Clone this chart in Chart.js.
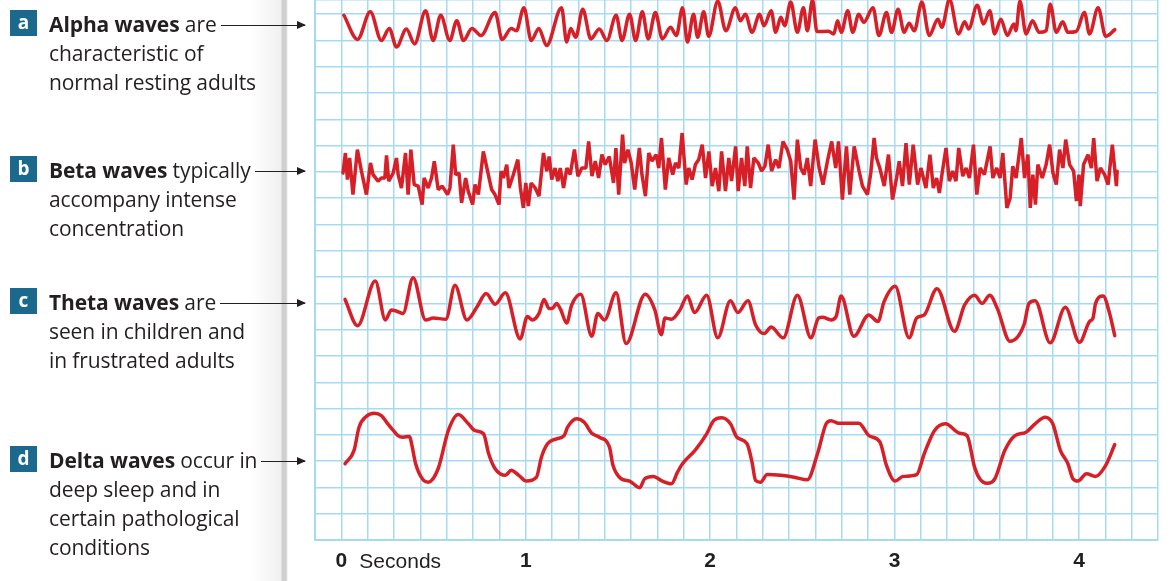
<!DOCTYPE html>
<html>
<head>
<meta charset="utf-8">
<title>EEG wave types</title>
<script src="https://cdn.jsdelivr.net/npm/chart.js@4.4.1/dist/chart.umd.min.js"></script>
<style>
  html, body { margin: 0; padding: 0; background: #fff; }
  body {
    width: 1175px; height: 581px; position: relative; overflow: hidden;
    font-family: "Open Sans", Lato, sans-serif; color: #231f20;
  }
  #panel {
    position: absolute; left: 0; top: 0; width: 288px; height: 581px;
    background: linear-gradient(to right, #fff 0, #fff 250px, #f0f0f0 281px, #cfcfcf 282px, #cfcfcf 286px, #fff 288px);
  }
  #plot { position: absolute; left: 285px; top: 0; width: 890px; height: 581px; }
  .wave {
    position: absolute; left: 49px; width: 256px;
    font-size: 21px; line-height: 29px; z-index: 2; letter-spacing: -0.1px;
  }
  .wave b { font-weight: 700; }
  .tag {
    position: absolute; left: -39px; top: 0; width: 27px; height: 26px;
    background: #1b6a8e; color: #fff; font-weight: 700; font-size: 19px;
    text-align: center; line-height: 25px; letter-spacing: 0;
  }
  .first { display: flex; align-items: center; white-space: nowrap; }
  .arrow { flex: 1; height: 1px; margin-left: 4px; background: #231f20; position: relative; top: 1px; }
  .arrow::after {
    content: ""; position: absolute; right: -1px; top: -4px;
    border-left: 9px solid #231f20; border-top: 4.5px solid transparent; border-bottom: 4.5px solid transparent;
  }
</style>
</head>
<body>
<div id="panel"></div>

<div class="wave" style="top:10px">
  <div class="tag">a</div>
  <div class="first"><span><b>Alpha waves</b> are</span><i class="arrow"></i></div>
  <div>characteristic of</div>
  <div>normal resting adults</div>
</div>
<div class="wave" style="top:156px">
  <div class="tag">b</div>
  <div class="first"><span><b>Beta waves</b> typically</span><i class="arrow"></i></div>
  <div>accompany intense</div>
  <div>concentration</div>
</div>
<div class="wave" style="top:288px">
  <div class="tag">c</div>
  <div class="first"><span><b>Theta waves</b> are</span><i class="arrow"></i></div>
  <div>seen in children and</div>
  <div>in frustrated adults</div>
</div>
<div class="wave" style="top:446px">
  <div class="tag">d</div>
  <div class="first"><span><b>Delta waves</b> occur in</span><i class="arrow"></i></div>
  <div>deep sleep and in</div>
  <div>certain pathological</div>
  <div>conditions</div>
</div>

<div id="plot"><canvas id="eeg" width="890" height="581"></canvas></div>

<script>
// seconds on x, trace deflection in grid squares on y (relative to each trace's arrow)
const secondLabels = ['0', '1', '2', '3', '4'];

const alphaTrace = [
  [0.014,0.46],[0.088,-0.46],[0.157,0.59],[0.217,-0.50],[0.260,-0.04],[0.299,-0.75],[0.353,-0.06],[0.397,-0.63],
  [0.457,0.63],[0.498,-0.50],[0.539,0.46],[0.588,-0.50],[0.626,0.25],[0.662,-0.50],[0.708,-0.04],[0.757,-0.31],
  [0.834,0.56],[0.872,-0.46],[0.921,-0.04],[0.949,-0.13],[0.990,0.75],[1.030,-0.50],[1.071,-0.04],[1.113,-0.69],
  [1.194,0.75],[1.222,-0.56],[1.244,-0.04],[1.271,-0.38],[1.309,0.69],[1.353,-0.44],[1.399,-0.06],[1.440,-0.50],
  [1.490,0.46],[1.522,-0.50],[1.563,0.50],[1.596,-0.50],[1.632,0.59],[1.664,-0.44],[1.703,0.56],[1.741,-0.44],
  [1.785,0.00],[1.817,-0.31],[1.850,0.75],[1.877,-0.56],[1.910,0.50],[1.932,-0.38],[1.965,0.59],[1.992,-0.34],
  [2.041,1.00],[2.085,-0.13],[2.137,0.75],[2.164,0.25],[2.191,0.50],[2.227,-0.19],[2.268,0.50],[2.292,0.06],
  [2.331,0.63],[2.355,-0.19],[2.383,0.38],[2.404,0.06],[2.437,0.96],[2.473,-0.19],[2.506,0.75],[2.527,-0.13],
  [2.555,1.04],[2.579,-0.16],[2.642,-0.15],[2.670,-0.25],[2.691,0.25],[2.711,-0.19],[2.746,0.63],[2.773,-0.19],
  [2.806,0.50],[2.833,0.19],[2.883,0.75],[2.915,-0.31],[2.956,0.56],[2.984,-0.19],[3.019,0.69],[3.052,-0.19],
  [3.079,0.16],[3.107,-0.13],[3.148,0.96],[3.188,-0.31],[3.235,0.31],[3.256,0.00],[3.298,1.06],[3.347,-0.25],
  [3.380,0.21],[3.402,-0.06],[3.448,0.84],[3.483,0.13],[3.516,0.63],[3.543,-0.25],[3.576,0.31],[3.612,-0.31],
  [3.647,0.13],[3.658,-0.13],[3.680,1.00],[3.713,-0.25],[3.748,0.25],[3.784,-0.19],[3.822,-0.13],[3.844,0.88],
  [3.877,-0.19],[3.912,0.21],[3.940,-0.19],[3.985,-0.16],[4.030,0.56],[4.057,-0.25],[4.104,0.75],[4.145,-0.34],
  [4.194,-0.09]
];

const betaTrace = [
  [0.009,-0.04],[0.022,0.72],[0.033,-0.29],[0.045,0.53],[0.063,-0.86],[0.087,0.85],[0.109,0.03],[0.136,-0.86],
  [0.158,0.34],[0.172,-0.10],[0.199,-0.35],[0.217,-0.23],[0.236,-0.23],[0.245,0.63],[0.257,-0.35],[0.281,-0.04],
  [0.299,0.53],[0.308,-0.10],[0.326,-0.61],[0.348,0.72],[0.362,-0.86],[0.377,0.85],[0.395,-0.48],[0.417,-0.54],
  [0.438,-1.24],[0.449,-0.23],[0.471,-0.61],[0.489,-0.23],[0.504,0.41],[0.525,-0.67],[0.547,-0.54],[0.576,-0.86],
  [0.589,-0.61],[0.607,1.04],[0.620,-0.10],[0.638,-0.04],[0.652,-1.18],[0.674,-0.23],[0.688,-0.73],[0.712,-1.24],
  [0.725,-0.48],[0.743,-0.86],[0.770,0.78],[0.793,0.03],[0.815,-0.67],[0.833,-0.86],[0.855,-1.24],[0.866,0.03],
  [0.879,-0.23],[0.897,0.28],[0.909,-0.61],[0.933,-0.10],[0.957,0.47],[0.971,-0.61],[0.987,-1.37],[1.000,-0.42],
  [1.014,-1.30],[1.029,-0.42],[1.051,-0.61],[1.072,-0.92],[1.096,0.72],[1.114,0.03],[1.127,0.59],[1.141,-0.29],
  [1.159,0.15],[1.174,-0.35],[1.187,0.15],[1.205,-0.61],[1.223,0.15],[1.241,-0.10],[1.264,0.85],[1.283,-0.16],
  [1.304,0.15],[1.326,0.15],[1.341,1.16],[1.359,-0.16],[1.377,0.41],[1.395,-0.23],[1.413,0.66],[1.431,0.28],
  [1.453,0.59],[1.476,-0.42],[1.489,0.91],[1.504,-0.86],[1.525,1.42],[1.536,0.34],[1.554,0.85],[1.572,0.34],
  [1.591,-0.67],[1.616,0.91],[1.630,-0.10],[1.649,-0.92],[1.667,0.72],[1.685,0.41],[1.707,0.66],[1.721,0.15],
  [1.736,1.29],[1.757,-0.67],[1.775,0.53],[1.797,-0.10],[1.812,0.34],[1.830,0.15],[1.848,1.48],[1.870,-0.48],
  [1.884,0.15],[1.902,-0.29],[1.920,0.28],[1.938,0.47],[1.957,1.04],[1.975,-0.23],[1.993,0.78],[2.011,-0.54],
  [2.029,0.15],[2.047,-0.73],[2.062,0.78],[2.083,-0.73],[2.101,0.53],[2.116,-0.35],[2.138,0.97],[2.152,-0.73],
  [2.170,0.53],[2.188,-0.54],[2.201,0.97],[2.219,-0.61],[2.237,0.53],[2.261,0.34],[2.279,0.03],[2.297,0.22],
  [2.315,1.04],[2.333,0.03],[2.355,0.47],[2.373,0.15],[2.395,1.16],[2.418,0.85],[2.437,0.41],[2.455,-1.05],
  [2.473,1.23],[2.491,0.15],[2.509,-0.10],[2.527,0.53],[2.545,-0.54],[2.569,1.23],[2.591,0.15],[2.612,-0.48],
  [2.636,0.41],[2.659,1.16],[2.681,0.15],[2.696,1.16],[2.717,-1.05],[2.739,0.97],[2.757,-0.86],[2.781,0.97],
  [2.808,0.03],[2.826,-0.54],[2.853,-0.86],[2.871,-0.04],[2.889,1.29],[2.902,0.53],[2.920,0.15],[2.944,-0.54],
  [2.967,0.66],[2.989,-1.05],[3.011,-0.23],[3.025,0.41],[3.043,-0.54],[3.062,1.10],[3.080,-0.48],[3.101,1.04],
  [3.125,-0.48],[3.143,0.15],[3.170,-0.61],[3.192,0.66],[3.210,-0.61],[3.228,-0.23],[3.243,-0.80],[3.257,-0.10],
  [3.279,0.91],[3.297,-0.35],[3.315,0.03],[3.333,-0.35],[3.348,0.91],[3.370,-0.16],[3.388,0.15],[3.406,-0.23],
  [3.428,1.04],[3.446,-0.86],[3.464,0.15],[3.487,-0.10],[3.518,0.97],[3.533,-0.23],[3.554,0.15],[3.572,-0.23],
  [3.587,0.72],[3.609,-1.37],[3.627,-0.99],[3.641,0.22],[3.659,-0.23],[3.687,1.29],[3.705,-0.23],[3.723,0.66],
  [3.736,-1.37],[3.750,-0.10],[3.764,-1.24],[3.777,0.28],[3.801,-0.23],[3.822,0.28],[3.841,1.04],[3.859,-0.04],
  [3.877,-0.48],[3.895,0.85],[3.913,0.15],[3.928,1.23],[3.949,0.28],[3.971,0.03],[3.986,-1.11],[4.000,-0.10],
  [4.007,-1.30],[4.025,0.28],[4.049,0.66],[4.067,0.15],[4.080,1.29],[4.098,-0.35],[4.116,0.15],[4.139,-0.10],
  [4.158,-0.48],[4.181,1.04],[4.203,-0.54],[4.207,0.03]
];

const thetaTrace = [
  [0.020,0.15],[0.088,-0.85],[0.184,0.85],[0.239,-0.63],[0.271,-0.25],[0.293,-0.28],[0.334,-0.38],[0.389,0.98],
  [0.457,-0.63],[0.498,-0.56],[0.567,-0.60],[0.616,0.69],[0.681,-0.63],[0.736,-0.13],[0.785,0.38],[0.834,-0.03],
  [0.889,0.40],[0.970,-1.35],[1.009,-0.50],[1.036,-0.63],[1.072,-0.38],[1.099,0.15],[1.126,-0.19],[1.145,-0.19],
  [1.167,0.00],[1.189,-0.23],[1.222,-0.75],[1.249,-0.06],[1.298,0.35],[1.358,-1.25],[1.391,-0.38],[1.427,-0.63],
  [1.490,0.40],[1.544,-1.53],[1.648,0.35],[1.700,-0.25],[1.735,-1.19],[1.755,-0.56],[1.790,-0.60],[1.836,-0.25],
  [1.877,0.28],[1.915,-0.35],[1.981,0.31],[2.041,-1.31],[2.110,0.10],[2.150,-0.35],[2.205,0.10],[2.246,-0.81],
  [2.293,-1.15],[2.331,-0.90],[2.396,-1.31],[2.473,0.31],[2.547,-1.31],[2.588,-0.56],[2.610,-0.53],[2.656,-0.63],
  [2.683,-0.50],[2.710,0.28],[2.779,-1.25],[2.847,-0.50],[2.860,-0.44],[2.910,-0.69],[2.943,0.06],[3.003,0.65],
  [3.079,-1.31],[3.120,-0.56],[3.161,-0.44],[3.230,0.56],[3.325,-1.06],[3.380,-0.06],[3.434,0.31],[3.475,0.00],
  [3.516,0.31],[3.557,-0.19],[3.626,-1.44],[3.702,-0.81],[3.729,0.00],[3.762,0.10],[3.844,-1.50],[3.926,-0.15],
  [4.003,-1.48],[4.057,-0.69],[4.076,-0.56],[4.090,0.00],[4.131,0.28],[4.166,-0.38],[4.194,-1.23]
];

const deltaTrace = [
  [0.020,-0.10],[0.069,0.41],[0.096,1.29],[0.135,1.70],[0.178,1.82],[0.217,1.73],[0.252,1.42],[0.279,1.19],
  [0.307,0.97],[0.334,0.91],[0.370,0.94],[0.381,0.66],[0.403,-0.10],[0.443,-0.71],[0.471,-0.80],[0.525,-0.29],
  [0.580,1.16],[0.634,1.77],[0.689,1.42],[0.725,1.16],[0.771,1.04],[0.799,0.28],[0.834,-0.29],[0.889,-0.54],
  [0.921,-0.35],[0.962,-0.54],[1.003,-0.76],[1.058,-0.61],[1.085,0.15],[1.118,0.66],[1.167,0.85],[1.208,0.97],
  [1.227,1.29],[1.276,1.61],[1.317,1.48],[1.358,1.06],[1.399,0.91],[1.454,0.53],[1.473,-0.16],[1.517,-0.67],
  [1.563,-0.76],[1.618,-1.01],[1.645,-0.67],[1.692,-0.58],[1.741,-0.76],[1.790,-0.86],[1.823,-0.42],[1.850,-0.10],
  [1.918,0.41],[1.981,1.04],[2.019,1.54],[2.063,1.65],[2.110,1.42],[2.145,0.91],[2.200,0.66],[2.227,-0.04],
  [2.246,-0.73],[2.273,-0.80],[2.309,-0.51],[2.383,-0.54],[2.456,-0.61],[2.527,-0.71],[2.582,0.28],[2.629,1.42],
  [2.656,1.54],[2.697,1.44],[2.806,1.44],[2.861,0.97],[2.921,0.72],[2.956,-0.16],[3.003,-0.76],[3.046,-0.58],
  [3.120,-0.51],[3.161,0.28],[3.216,1.16],[3.276,1.42],[3.352,1.06],[3.393,0.97],[3.434,-0.23],[3.462,-0.67],
  [3.502,-0.84],[3.544,-0.67],[3.598,0.41],[3.653,0.97],[3.713,1.10],[3.762,1.42],[3.817,1.67],[3.858,1.42],
  [3.899,0.41],[3.940,-0.10],[3.967,-0.67],[3.994,-0.76],[4.041,-0.48],[4.090,-0.58],[4.145,-0.16],[4.194,0.63]
];

// grid squares: 7 per second horizontally, same size vertically
const SQUARES_PER_SECOND = 7;
const GRID_TOP = 540 / 26.29;          // y range shown, in squares
const baseline = { alpha: 19.5, beta: 14, theta: 9, delta: 3 };
const RED = '#d61f27';

function toPoints(trace, offset) {
  return trace.map(([t, v]) => ({ x: t, y: offset + v }));
}

function traceSet(trace, offset, smooth) {
  return {
    data: toPoints(trace, offset),
    borderColor: RED,
    borderWidth: 3.5,
    pointRadius: 0,
    fill: false,
    tension: smooth ? 0.4 : 0,
    cubicInterpolationMode: smooth ? 'monotone' : 'default',
    borderCapStyle: 'round',
    borderJoinStyle: smooth ? 'round' : 'bevel'
  };
}

const secondsLabel = {
  id: 'secondsLabel',
  afterDraw(chart) {
    const { ctx, scales: { x } } = chart;
    ctx.save();
    ctx.font = '21px "Liberation Sans", Arial, sans-serif';
    ctx.fillStyle = '#231f20';
    ctx.textBaseline = 'alphabetic';
    ctx.fillText('Seconds', x.getPixelForValue(0) + 18, x.top + 28);
    ctx.restore();
  }
};

new Chart(document.getElementById('eeg'), {
  type: 'line',
  data: {
    datasets: [
      traceSet(alphaTrace, baseline.alpha, true),
      traceSet(betaTrace, baseline.beta, false),
      traceSet(thetaTrace, baseline.theta, true),
      traceSet(deltaTrace, baseline.delta, true)
    ]
  },
  options: {
    responsive: false,
    animation: false,
    events: [],
    layout: { padding: { left: 30, right: 17, top: 0, bottom: 0 } },
    plugins: { legend: { display: false }, tooltip: { enabled: false } },
    scales: {
      x: {
        type: 'linear',
        min: -1 / SQUARES_PER_SECOND,
        max: 31 / SQUARES_PER_SECOND,
        afterBuildTicks(scale) {
          const ticks = [];
          for (let k = -1; k <= 31; k++) ticks.push({ value: k / SQUARES_PER_SECOND });
          scale.ticks = ticks;
        },
        afterFit(scale) { scale.height = 41; },
        grid: { color: '#a5daf2', lineWidth: 1.5, drawTicks: false },
        border: { color: '#a5daf2', width: 2 },
        ticks: {
          autoSkip: false,
          maxRotation: 0,
          padding: 9,
          color: '#231f20',
          font: { family: '"Liberation Sans", Arial, sans-serif', size: 21, weight: 'bold' },
          callback(value, index) {
            const k = index - 1;
            return (k >= 0 && k % SQUARES_PER_SECOND === 0) ? secondLabels[k / SQUARES_PER_SECOND] : '';
          }
        }
      },
      y: {
        type: 'linear',
        min: 0,
        max: GRID_TOP,
        afterFit(scale) { scale.width = 0; },
        grid: { color: '#a5daf2', lineWidth: 1.5, drawTicks: false },
        border: { color: '#a5daf2', width: 2 },
        ticks: { display: false, stepSize: 1 }
      }
    }
  },
  plugins: [secondsLabel]
});
</script>
</body>
</html>
